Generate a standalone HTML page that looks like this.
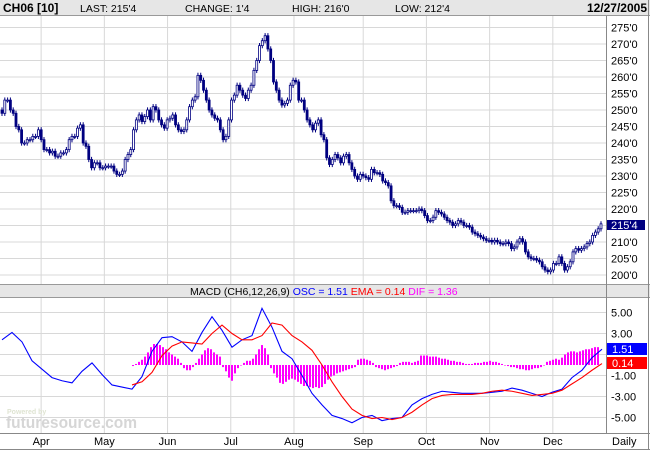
<!DOCTYPE html>
<html><head><meta charset="utf-8"><style>
body{margin:0;background:#fff}
svg{display:block;font-family:"Liberation Sans",sans-serif}
</style></head><body>
<svg id="c" width="650" height="450" viewBox="0 0 650 450">
<rect x="0" y="0" width="650" height="450" fill="#fff"/>
<g id="grid"></g>
<g id="marks"></g>
<g id="frame"></g>
</svg>
<script>
// Price data (daily closes, CH06 corn futures)
const closes=[249,253,253,250,249,245,244,240,240,241,241,242,242,244,241,238,238,237,237.5,236,236,237,237,238,241,242,242,244.5,245.5,240,239,235,232.5,234,234,232.5,232.5,233,233,233,231.5,230.5,230.5,231.5,235,236.5,238,244,247,248.5,
246.5,248,250,247,251,250,247,245.5,244.5,247,247.5,248.5,245.5,244,243.5,244,247,251,253,254,260.5,259,256,253,250,248.5,247.5,247,244,241,242,247,253,254.5,257.5,256,254.5,253.5,256,257.5,262,265,269.5,271,272.5,268.5,265,258.5,256,253,251.5,252,253,257.5,259,258.5,253,253,250,247,245.5,244,
246,247,242.5,241,235.5,233.5,235,236.5,235.5,234,236,236.5,234,232,230,229,230.5,230,229.5,229,232,231,231,230.5,228.5,228,227,
222.5,221,221,220.5,219,219,219.5,219.5,219.5,219.5,220,219.5,218,216.5,216.5,217.5,219.5,219,218.5,217.5,216.5,216,215,215.5,216.5,216,215,215,
214.5,213,212.5,212,211.5,211,210.5,210.5,210,210.5,210,209.5,209.5,210,209.5,208,208.5,210,211,210,207,205.5,205,205,204.5,204,202.5,201.5,201,201.5,203.5,203.5,205.5,203.5,201.5,202.5,204,207,208,207.5,208,208.5,209.5,210,212,213,214,215.5];
const firstOpen=250;
const priceTicks=[275,270,265,260,255,250,245,240,235,230,225,220,215,210,205,200];
const priceTickLabels=["275'0","270'0","265'0","260'0","255'0","250'0","245'0","240'0","235'0","230'0","225'0","220'0","","210'0","205'0","200'0"];
const lastLabel="215'4";
// MACD data
const macdLine=[2.4,3.1,2.2,0.4,-0.4,-1.2,-1.5,-1.7,-0.6,0.2,-0.9,-1.9,-2.1,-2.3,-1.1,1.3,2.6,2.7,2.2,1.3,3.1,4.6,3.3,1.7,2.4,2.8,5.4,3.6,1.3,0.6,-1.0,-2.7,-3.8,-4.8,-5.1,-5.5,-5.0,-4.8,-5.3,-5.1,-5.0,-3.8,-3.2,-2.8,-2.5,-2.6,-2.7,-2.7,-2.7,-2.6,-2.5,-2.2,-2.4,-2.7,-3.0,-2.6,-2.3,-1.2,-0.5,0.7,1.51];
const emaLine=[-1.9,-1.6,-0.7,0.9,1.8,2.2,2.1,2.0,3.0,3.8,3.0,2.4,2.4,2.8,4.0,3.8,2.8,2.2,1.4,0,-1.6,-3.0,-4.2,-4.8,-5.1,-5.0,-5.2,-5.0,-4.5,-3.8,-3.2,-2.9,-2.8,-2.8,-2.8,-2.7,-2.5,-2.4,-2.5,-2.7,-2.9,-2.8,-2.7,-2.4,-1.8,-1.2,-0.5,0.14];
const histo=[-0.1,0.1,0.3,0.5,0.8,1.2,1.7,2.0,2.0,1.9,1.7,1.5,1.2,1.0,0.8,0.6,0.2,-0.3,-0.5,-0.5,-0.2,0.2,0.6,1.0,1.4,1.6,1.5,1.2,1.0,0.8,-0.2,-0.6,-1.2,-1.5,-0.8,-0.3,0,0.2,0.4,0.4,0.6,1.0,1.5,1.9,1.6,1.0,-0.3,-0.8,-1.2,-1.7,-1.8,-1.6,-1.4,-1.3,-1.4,-1.6,-1.8,-2.0,-2.0,-2.1,-2.2,-2.1,-2.2,-2.1,-1.8,-1.4,-1.1,-1.0,-0.8,-0.7,-0.6,
-0.5,-0.4,-0.3,-0.2,0.5,0.6,0.6,0.5,0.4,0.2,-0.2,-0.3,-0.4,-0.5,-0.4,-0.3,-0.2,-0.1,0.2,0.3,0.3,0.3,0.2,0.3,0.4,0.9,0.9,0.9,0.8,0.8,0.8,0.7,0.6,0.6,0.5,0.4,0.4,0.3,0.3,0.2,0.1,0.1,0.1,0.2,0.2,0.2,0.3,0.3,0.4,0.3,0.3,0.2,0.1,0,-0.1,-0.2,-0.2,-0.3,-0.4,-0.4,-0.5,-0.5,-0.4,-0.3,-0.3,-0.2,0,0.3,0.4,0.5,0.6,0.5,0.7,1.0,1.2,1.3,1.3,1.2,1.3,1.4,1.5,1.5,1.6,1.7,1.7];
const macdTicks=[5,3,1,-1,-3,-5];
const macdTickLabels=["5.00","3.00","","-1.00","-3.00","-5.00"];
const months=["Apr","May","Jun","Jul","Aug","Sep","Oct","Nov","Dec"];
const monthDay=[13,34,55,76,97,120,141,162,183]; // trading-day index of month start

const NS="http://www.w3.org/2000/svg";
function mk(tag,attrs,parent,text){const e=document.createElementNS(NS,tag);for(const k in attrs)e.setAttribute(k,attrs[k]);if(text!==undefined)e.textContent=text;parent.appendChild(e);return e;}
const grid=document.getElementById('grid'),marks=document.getElementById('marks'),frame=document.getElementById('frame');
const X0=2,X1=601,PR=606;
const nDays=200;
const xDay=d=>X0+d*(X1-X0)/(nDays-1);
const xC=i=>X0+i*(X1-X0)/(closes.length-1);
const yP=p=>27.5+(275-p)*3.3;
const yM=v=>365-v*10.5;
// horizontal grid
priceTicks.forEach((p,i)=>{
  const l=mk('line',{x1:0,x2:PR,y1:yP(p),y2:yP(p),stroke:'#d8d8d8','stroke-width':1},grid);
  
  if(priceTickLabels[i]){const t=mk('text',{x:611,y:yP(p)+4,'font-size':11,fill:'#000'},frame,priceTickLabels[i]);
  }
});
macdTicks.forEach((v,i)=>{
  const l=mk('line',{x1:0,x2:PR,y1:yM(v),y2:yM(v),stroke:'#d8d8d8','stroke-width':1},grid);
  
  if(macdTickLabels[i]){const t=mk('text',{x:611,y:yM(v)+4,'font-size':11,fill:'#000'},frame,macdTickLabels[i]);
  }
});
months.forEach((m,i)=>{
  const x=xDay(monthDay[i]);
  const a=mk('line',{x1:x,x2:x,y1:16,y2:284,stroke:'#d8d8d8'},grid);
  
  const b=mk('line',{x1:x,x2:x,y1:298,y2:433,stroke:'#d8d8d8'},grid);
  
  const t=mk('text',{x:x,y:445,'font-size':11,'text-anchor':'middle'},frame,m);
  
});
// candles
closes.forEach((c,i)=>{
  const o=i?closes[i-1]:firstOpen;const x=xC(i);
  const hi=Math.max(o,c)+0.8,lo=Math.min(o,c)-0.8;
  const w=mk('line',{x1:x,x2:x,y1:yP(hi),y2:yP(lo),stroke:'#000080','stroke-width':1},marks);
  
  const top=yP(Math.max(o,c)),h=Math.max(1,yP(Math.min(o,c))-top);
  const r=mk('rect',{x:x-1,y:top,width:2,height:h,fill:c>=o?'#fff':'#000080',stroke:'#000080','stroke-width':0.8},marks);
  
});
// histogram
histo.forEach((v,i)=>{
  const x=133+i*3;const y0=yM(0),y1=yM(v);
  const r=mk('rect',{x:x-1,y:Math.min(y0,y1),width:2,height:Math.max(0.5,Math.abs(y1-y0)),fill:'#ff00ff'},marks);
  
});
const pl=(arr,x0,col,name)=>{const p=mk('polyline',{points:arr.map((v,i)=>(x0+i*10)+','+yM(v)).join(' '),fill:'none',stroke:col,'stroke-width':1.1},marks);
};
pl(macdLine,2,'#0000ff','macd-line');
pl(emaLine,132,'#ff0000','ema-signal-line');
// frame/panels
const f=(tag,a,name,txt)=>{const e=mk(tag,a,frame,txt);return e;};
f('rect',{x:0,y:0,width:650,height:15,fill:'#e6e6e6'},'header-bar');
f('line',{x1:0,x2:650,y1:15.5,y2:15.5,stroke:'#999'},'header-border');
f('text',{x:3,y:12,'font-size':12,'font-weight':'bold'},'symbol-title','CH06 [10]');
f('text',{x:80,y:12,'font-size':10.5},'last-value','LAST: 215\'4');
f('text',{x:185,y:12,'font-size':10.5},'change-value','CHANGE: 1\'4');
f('text',{x:292,y:12,'font-size':10.5},'high-value','HIGH: 216\'0');
f('text',{x:395,y:12,'font-size':10.5},'low-value','LOW: 212\'4');
f('text',{x:647,y:12,'font-size':12,'font-weight':'bold','text-anchor':'end'},'date-label','12/27/2005');
f('rect',{x:0,y:285,width:650,height:12,fill:'#e6e6e6'},'macd-header-bar');
f('line',{x1:0,x2:650,y1:284.5,y2:284.5,stroke:'#999'},'panel-divider');
f('line',{x1:0,x2:650,y1:297.5,y2:297.5,stroke:'#999'},'panel-divider');
const mt=f('text',{x:190,y:295,'font-size':10.5},'macd-title');
[['MACD (CH6,12,26,9) ','#000'],['OSC = 1.51 ','#0000ff'],['EMA = 0.14 ','#ff0000'],['DIF = 1.36','#ff00ff']].forEach(s=>{const t=mk('tspan',{fill:s[1]},mt,s[0]);});
f('line',{x1:PR+0.5,x2:PR+0.5,y1:16,y2:433,stroke:'#888'},'right-axis-line');
f('line',{x1:0,x2:650,y1:433.5,y2:433.5,stroke:'#888'},'bottom-axis-line');
f('line',{x1:648.5,x2:648.5,y1:0,y2:450,stroke:'#888'},'right-border');
f('line',{x1:0,x2:650,y1:449.5,y2:449.5,stroke:'#888'},'bottom-border');
f('rect',{x:607,y:220,width:38,height:10,fill:'#000080'},'last-price-tag');
f('text',{x:611,y:229,'font-size':11,fill:'#fff'},'last-price-label',lastLabel);
f('rect',{x:607,y:343,width:40,height:12,fill:'#0000ff'},'osc-tag');
f('text',{x:612,y:353,'font-size':11,fill:'#fff'},'osc-tag-label','1.51');
f('rect',{x:607,y:357,width:40,height:12,fill:'#ff0000'},'ema-tag');
f('text',{x:612,y:367,'font-size':11,fill:'#fff'},'ema-tag-label','0.14');
f('text',{x:612,y:445,'font-size':11},'daily-label','Daily');
f('text',{x:7,y:414,'font-size':7,'font-weight':'bold',fill:'#dfe4d2'},'watermark-powered','Powered by');
f('text',{x:6,y:428,'font-size':17,'font-weight':'bold',fill:'#d6d6d6',textLength:131,lengthAdjust:'spacingAndGlyphs'},'watermark-futuresource','futuresource.com');
</script>
</body></html>
